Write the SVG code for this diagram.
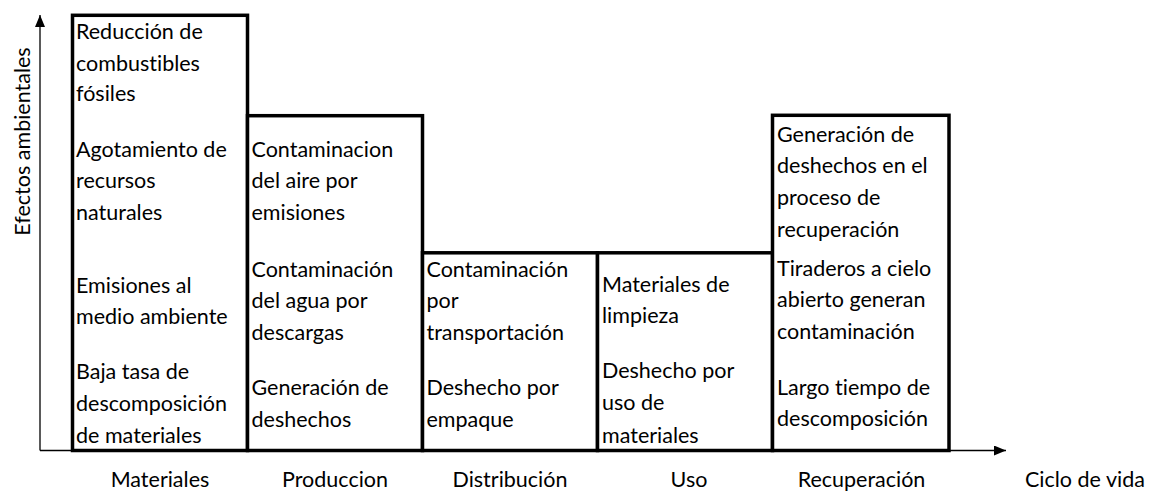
<svg xmlns="http://www.w3.org/2000/svg" width="1155" height="491" viewBox="0 0 1155 491">
<defs>
<style>
.box{fill:#fff;stroke:#000;stroke-width:3.5}
.t{font-family:Lato,"Open Sans",sans-serif;font-size:21.5px;fill:#000;font-variant-ligatures:none;font-feature-settings:"liga" 0,"clig" 0}
.lbl{font-family:Lato,"Open Sans",sans-serif;font-size:21.5px;fill:#000;text-anchor:middle;font-variant-ligatures:none;font-feature-settings:"liga" 0,"clig" 0}
.axis{stroke:#000;stroke-width:1.3;fill:none}
</style>
<marker id="arr" markerWidth="12" markerHeight="10" refX="12" refY="5" orient="auto" markerUnits="userSpaceOnUse">
<path d="M0,0 L12,5 L0,10 Z" fill="#000"/>
</marker>
</defs>
<rect width="1155" height="491" fill="#fff"/>
<g id="connectors">
<line class="axis" x1="40" y1="450.5" x2="40" y2="15" marker-end="url(#arr)"/>
<line class="axis" x1="40" y1="450.5" x2="1006" y2="450.5" marker-end="url(#arr)"/>
</g>
<g id="materiales">
<rect class="box" x="72.5" y="15.3" width="175" height="435.2"/>
<text class="t"><tspan x="76" y="39">Reducción de</tspan><tspan x="76" y="70.5">combustibles</tspan><tspan x="76" y="101">fósiles</tspan><tspan x="76" y="156.7">Agotamiento de</tspan><tspan x="76" y="188">recursos</tspan><tspan x="76" y="219.7">naturales</tspan><tspan x="76" y="292.7">Emisiones al</tspan><tspan x="76" y="324">medio ambiente</tspan><tspan x="76" y="379.3">Baja tasa de</tspan><tspan x="76" y="411">descomposición</tspan><tspan x="76" y="442.7">de materiales</tspan></text>
<text class="lbl" x="160" y="486.5">Materiales</text>
</g>
<g id="produccion">
<rect class="box" x="247.5" y="115.7" width="175" height="334.8"/>
<text class="t"><tspan x="251.5" y="156.7">Contaminacion</tspan><tspan x="251.5" y="188.3">del aire por</tspan><tspan x="251.5" y="220">emisiones</tspan><tspan x="251.5" y="276.7">Contaminación</tspan><tspan x="251.5" y="308.3">del agua por</tspan><tspan x="251.5" y="340">descargas</tspan><tspan x="251.5" y="395">Generación de</tspan><tspan x="251.5" y="426.7">deshechos</tspan></text>
<text class="lbl" x="335" y="486.5">Produccion</text>
</g>
<g id="distribucion">
<rect class="box" x="422.5" y="252.8" width="175" height="197.7"/>
<text class="t"><tspan x="426.5" y="276.7">Contaminación</tspan><tspan x="426.5" y="308.3">por</tspan><tspan x="426.5" y="340">transportación</tspan><tspan x="426.5" y="395">Deshecho por</tspan><tspan x="426.5" y="426.7">empaque</tspan></text>
<text class="lbl" x="510" y="486.5">Distribución</text>
</g>
<g id="uso">
<rect class="box" x="597.5" y="252.8" width="175" height="197.7"/>
<text class="t"><tspan x="602" y="291.7">Materiales de</tspan><tspan x="602" y="323.3">limpieza</tspan><tspan x="602" y="378.3">Deshecho por</tspan><tspan x="602" y="410">uso de</tspan><tspan x="602" y="442.7">materiales</tspan></text>
<text class="lbl" x="689" y="486.5">Uso</text>
</g>
<g id="recuperacion">
<rect class="box" x="772.5" y="115.3" width="176.5" height="335.2"/>
<text class="t"><tspan x="777" y="141.7">Generación de</tspan><tspan x="777" y="173.3">deshechos en el</tspan><tspan x="777" y="205">proceso de</tspan><tspan x="777" y="236.7">recuperación</tspan><tspan x="777" y="276">Tiraderos a cielo</tspan><tspan x="777" y="307.3">abierto generan</tspan><tspan x="777" y="339">contaminación</tspan><tspan x="777" y="395">Largo tiempo de</tspan><tspan x="777" y="426">descomposición</tspan></text>
<text class="lbl" x="861.5" y="486.5">Recuperación</text>
</g>
<g id="ciclo">
<text class="t" x="1025" y="486.5">Ciclo de vida</text>
</g>
<g id="efectos">
<text class="lbl" transform="translate(30,141.5) rotate(-90)" x="0" y="0">Efectos ambientales</text>
</g>
</svg>
